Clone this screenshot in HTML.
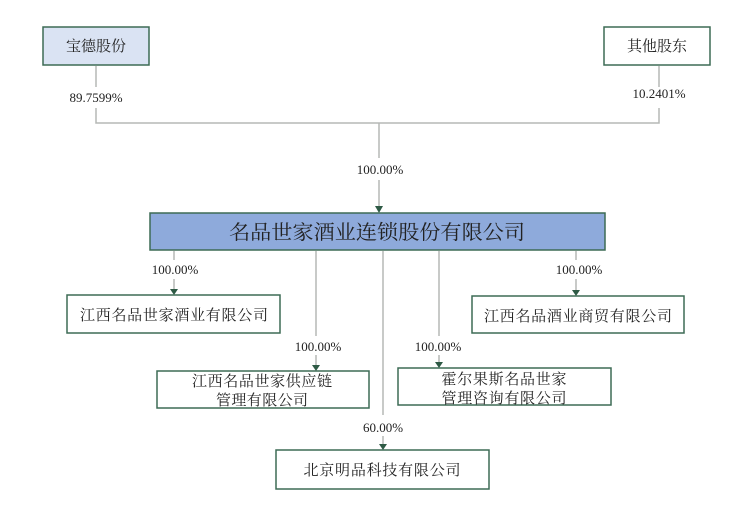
<!DOCTYPE html>
<html><head><meta charset="utf-8"><style>
html,body{margin:0;padding:0;background:#fff;}
svg{display:block;}
text{font-family:"Liberation Serif","Noto Serif CJK SC","Noto Serif CJK JP",serif;fill:#222;}
.c{font-family:"Noto Serif CJK SC","Noto Serif CJK JP",serif;}
</style></head><body>
<svg width="753" height="511" viewBox="0 0 753 511" xmlns="http://www.w3.org/2000/svg">
<g stroke="#b5b8b5" stroke-width="1.5" fill="none">
<path d="M96,66 V87"/>
<path d="M96,108 V123 H659 V108"/>
<path d="M659,66 V87"/>
<path d="M379,123 V158"/>
<path d="M379,180 V207"/>
<path d="M174,251 V260"/>
<path d="M174,279 V290"/>
<path d="M316,251 V336"/>
<path d="M316,355 V366"/>
<path d="M383,251 V415"/>
<path d="M383,436 V445"/>
<path d="M439,251 V336"/>
<path d="M439,355 V363"/>
<path d="M576,251 V260"/>
<path d="M576,279 V291"/>
</g>
<g fill="#2e5a45">
<path d="M375,206 H383 L379,213 Z"/>
<path d="M170,289 H178 L174,295 Z"/>
<path d="M312,365 H320 L316,371 Z"/>
<path d="M379,444 H387 L383,450 Z"/>
<path d="M435,362 H443 L439,368 Z"/>
<path d="M572,290 H580 L576,296 Z"/>
</g>
<g stroke="#3d6b55" stroke-width="1.5">
<rect x="43" y="27" width="106" height="38" fill="#dae3f3"/>
<rect x="604" y="27" width="106" height="38" fill="#fff"/>
<rect x="150" y="213" width="455" height="37" fill="#8eaadb"/>
<rect x="67" y="295" width="213" height="38" fill="#fff"/>
<rect x="472" y="296" width="212" height="37" fill="#fff"/>
<rect x="157" y="371" width="212" height="37" fill="#fff"/>
<rect x="398" y="368" width="213" height="37" fill="#fff"/>
<rect x="276" y="450" width="213" height="39" fill="#fff"/>
</g>
<g font-size="15" text-anchor="middle" class="c">
<text class="c" x="96" y="51">宝德股份</text>
<text class="c" x="657" y="51">其他股东</text>
<text class="c" x="377" y="239" font-size="20" textLength="296" lengthAdjust="spacingAndGlyphs">名品世家酒业连锁股份有限公司</text>
<text class="c" x="174" y="320" textLength="188">江西名品世家酒业有限公司</text>
<text class="c" x="578" y="321" textLength="188">江西名品酒业商贸有限公司</text>
<text class="c" x="262" y="386" textLength="140">江西名品世家供应链</text>
<text class="c" x="262" y="405" textLength="92">管理有限公司</text>
<text class="c" x="504" y="384" textLength="125">霍尔果斯名品世家</text>
<text class="c" x="504" y="403" textLength="125">管理咨询有限公司</text>
<text class="c" x="382" y="475" textLength="157">北京明品科技有限公司</text>
</g>
<g font-size="13" text-anchor="middle">
<text x="96" y="102">89.7599%</text>
<text x="659" y="98">10.2401%</text>
<text x="380" y="174">100.00%</text>
<text x="175" y="274">100.00%</text>
<text x="579" y="274">100.00%</text>
<text x="318" y="351">100.00%</text>
<text x="438" y="351">100.00%</text>
<text x="383" y="432">60.00%</text>
</g>
</svg>
</body></html>
